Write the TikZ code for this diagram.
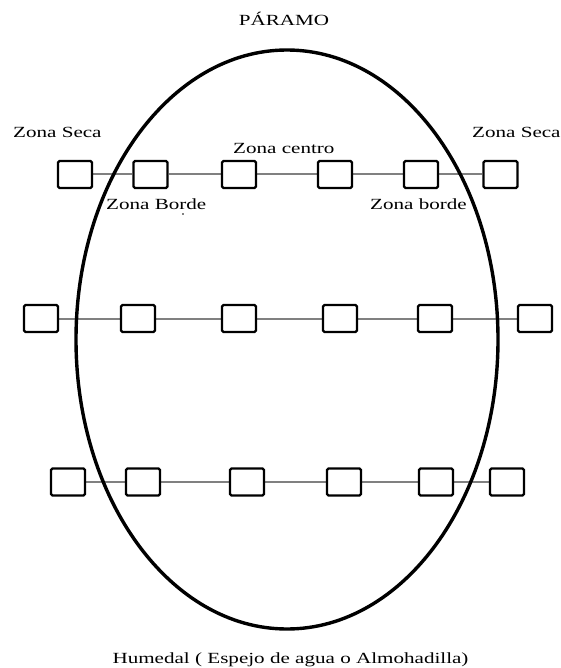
\documentclass[tikz,border=0pt]{standalone}
\usepackage{fontspec}
\setmainfont{Liberation Serif}
\usetikzlibrary{backgrounds}
\newcommand\wide[1]{\scalebox{1.36}[1]{#1}}
\tikzset{
  zbox/.style={draw=black, line width=2.4pt, rounded corners=1.5pt, fill=white,
    minimum width=34pt, minimum height=27pt, inner sep=0pt},
  link/.style={draw=black!50, line width=2pt},
  lbl/.style={inner sep=0pt, font=\fontsize{15.5pt}{17pt}\selectfont},
}
\begin{document}
\begin{tikzpicture}[x=1pt, y=-1pt]
\useasboundingbox (0,0) rectangle (561,668);
% labels
\node[lbl, anchor=base] (paramo) at (284,26) {\wide{PÁRAMO}};
\node[lbl, anchor=base west] (secaL) at (13,138) {\wide{Zona Seca}};
\node[lbl, anchor=base west] (secaR) at (472,138) {\wide{Zona Seca}};
\node[lbl, anchor=base west] (centro) at (233,154) {\wide{Zona centro}};
\node[lbl, anchor=base west] (bordeL) at (106,210) {\wide{Zona Borde}};
\node[lbl, anchor=base west] (bordeR) at (370,209) {\wide{Zona borde}};
\node[lbl, anchor=base] (humedal) at (290.5,663) {\wide{Humedal ( Espejo de agua o Almohadilla)}};
\fill (183,214) circle (0.9pt);
% row 1
\node[zbox] (a1) at (75,174.5) {};
\node[zbox] (a2) at (150.5,174.5) {};
\node[zbox] (a3) at (239,174.5) {};
\node[zbox] (a4) at (335,174.5) {};
\node[zbox] (a5) at (421,174.5) {};
\node[zbox] (a6) at (500.5,174.5) {};
% row 2
\node[zbox] (b1) at (41,318.5) {};
\node[zbox] (b2) at (138,318.5) {};
\node[zbox] (b3) at (239,318.5) {};
\node[zbox] (b4) at (340,318.5) {};
\node[zbox] (b5) at (435,318.5) {};
\node[zbox] (b6) at (535,318.5) {};
% row 3
\node[zbox] (c1) at (68,482) {};
\node[zbox] (c2) at (143,482) {};
\node[zbox] (c3) at (247,482) {};
\node[zbox] (c4) at (344,482) {};
\node[zbox] (c5) at (436,482) {};
\node[zbox] (c6) at (507,482) {};
\begin{pgfonlayer}{background}
\foreach \r in {a,b,c}{
  \draw[link] (\r1) -- (\r2) -- (\r3) -- (\r4) -- (\r5) -- (\r6);
}
\draw[line width=3.4pt] (287,339.5) ellipse [x radius=211, y radius=289.5];
\end{pgfonlayer}
\end{tikzpicture}
\end{document}
